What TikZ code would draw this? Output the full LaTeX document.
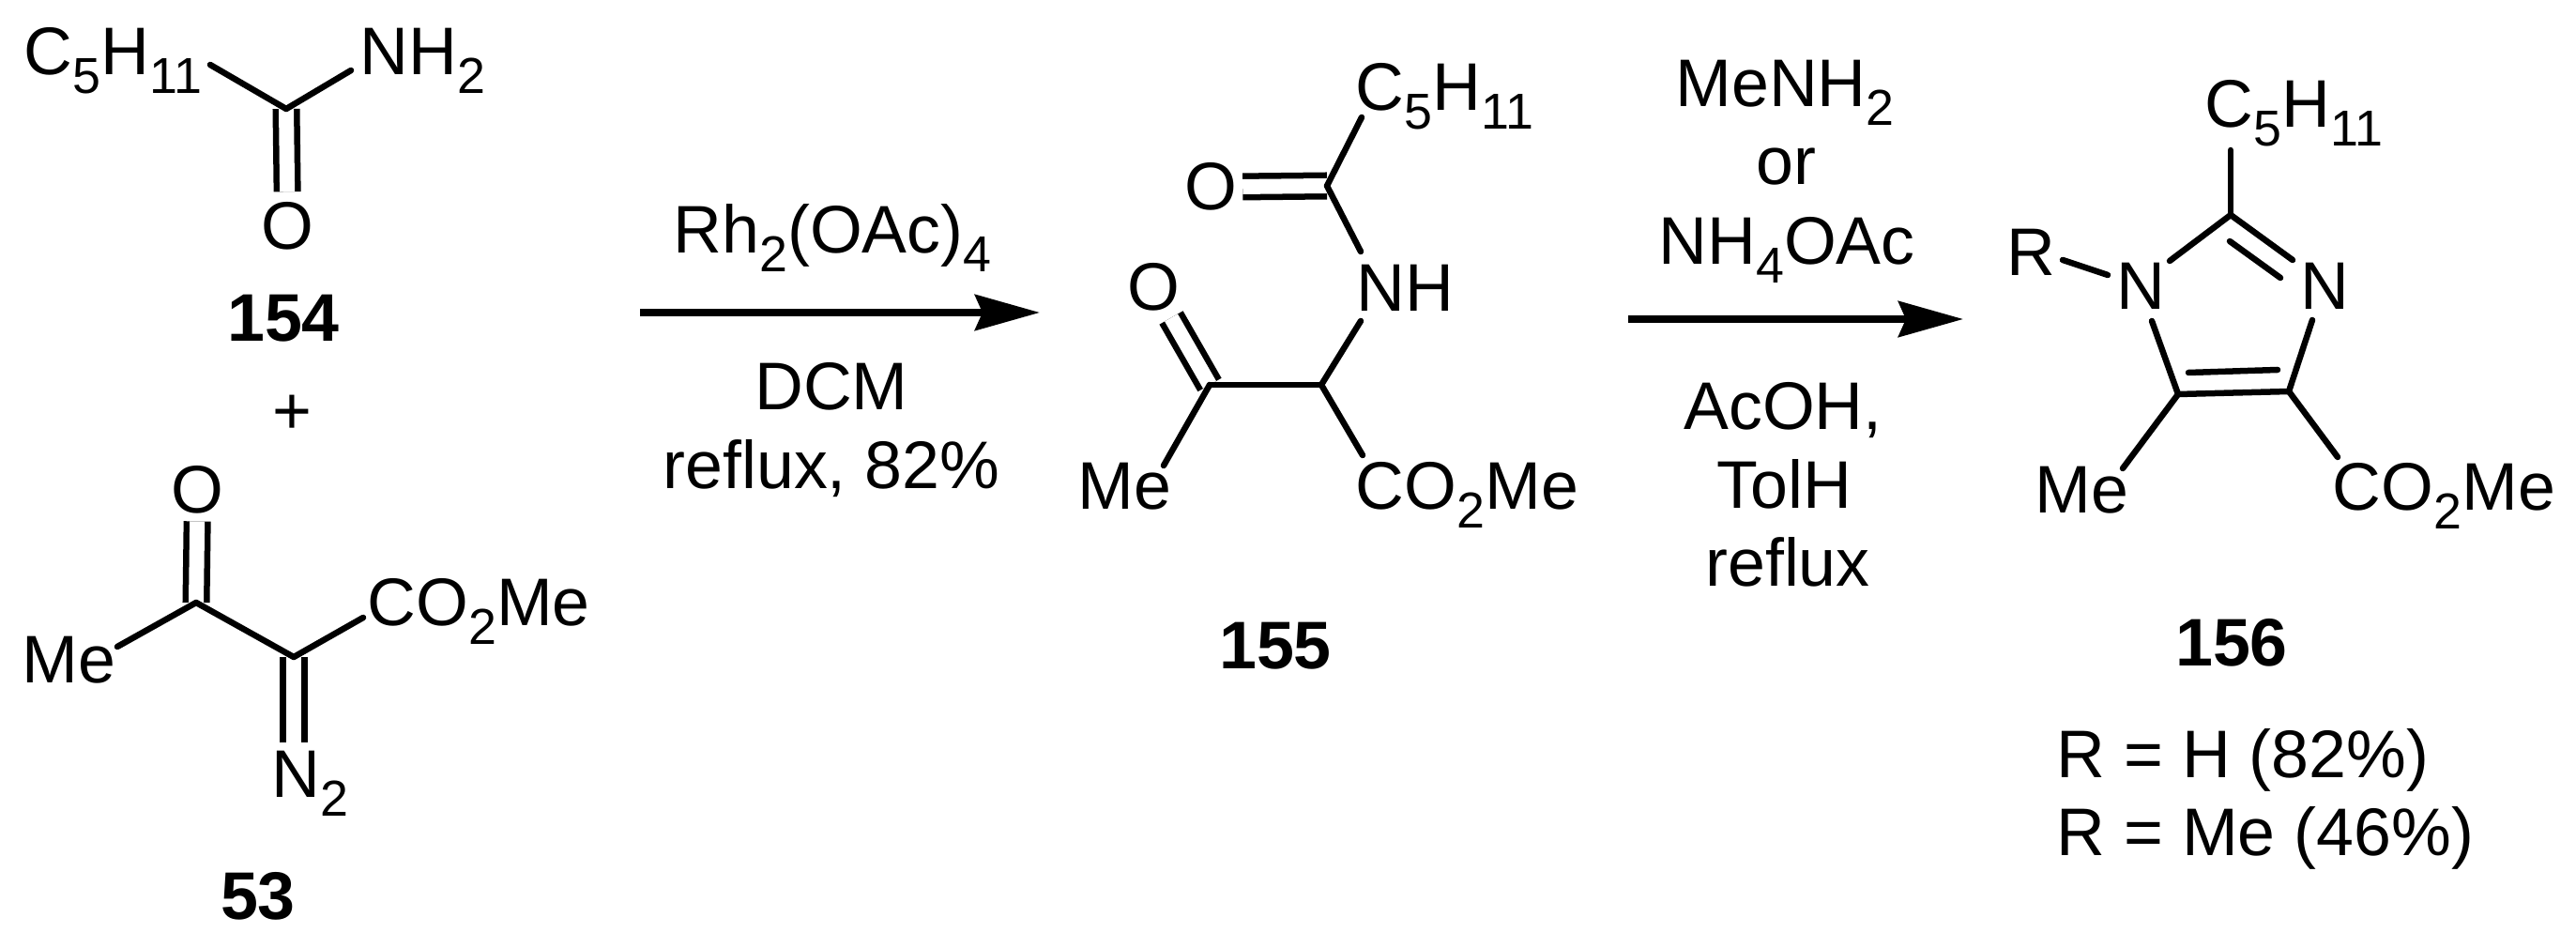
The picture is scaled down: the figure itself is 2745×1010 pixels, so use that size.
\documentclass[tikz,border=0pt]{standalone}
\usepackage{fontspec}
\setmainfont{Liberation Sans}
\usetikzlibrary{arrows.meta}
\newcommand{\subnum}[1]{\raisebox{-0.19cm}{\fontsize{15.3}{16}\selectfont #1}}
\begin{document}
\begin{tikzpicture}[x=0.01cm, y=-0.01cm,
		every node/.style = {inner sep=0pt, font=\fontsize{20.4}{24}\selectfont},
		atom/.style = {anchor=base west},
		reagent/.style = {anchor=base},
		cmpd/.style = {anchor=base, font=\fontsize{20.4}{24}\selectfont\bfseries},
		bond/.style = {line width=0.065cm, line cap=round},
		dblbond/.style = {line width=0.065cm, double, double distance=0.16cm},
		rxnarrow/.style = {line width=0.075cm, -{Stealth[length=0.69cm, width=0.38cm, inset=0.08cm]}}]

	\useasboundingbox (0,0) rectangle (2745,1010);

	% amide 154
	\coordinate (c154) at (305,116);
	\node[atom] (cfive154) at (25,80) {C\subnum{5}H\subnum{11}};
	\node[atom] (nhtwo154) at (383,80) {NH\subnum{2}};
	\node[atom] (oxo154) at (278,266) {O};
	\node[cmpd] (cpd154) at (302,364) {154};
	\node[reagent] (plus) at (311,463) {+};
	\draw[dblbond, shorten >=0.11cm] (c154) -- (oxo154);
	\draw[bond] ([shift={(199,-11)}]cfive154.base west) -- (c154);
	\draw[bond] (c154) -- ([shift={(-9,-5)}]nhtwo154.base west);

	% diazo 53
	\coordinate (c53a) at (209,642);
	\coordinate (c53b) at (313,700);
	\node[atom] (oxo53) at (182,547) {O};
	\node[atom] (me53) at (23,728) {Me};
	\node[atom] (co53) at (391,667) {CO\subnum{2}Me};
	\node[atom] (ntwo53) at (289,850) {N\subnum{2}};
	\node[cmpd] (cpd53) at (275,979) {53};
	\draw[dblbond, shorten >=0.07cm] (c53a) -- (oxo53);
	\draw[dblbond] (c53b) -- ([shift={(24,-59)}]ntwo53.base west);
	\draw[bond] ([shift={(102,-39)}]me53.base west) -- (c53a);
	\draw[bond] (c53a) -- (c53b);
	\draw[bond] (c53b) -- ([shift={(-4,-9)}]co53.base west);

	% first step
	\coordinate (startA) at (682,333);
	\coordinate (endA) at (1108,333);
	\node[reagent] (rhcat) at (887,270) {Rh\subnum{2}(OAc)\subnum{4}};
	\node[reagent] (dcm) at (886,437) {DCM};
	\node[reagent] (refluxA) at (886,521) {reflux, 82\%};
	\draw[rxnarrow] (startA) -- (endA);

	% ketoamide 155
	\coordinate (c155a) at (1289,410);
	\coordinate (c155b) at (1408,410);
	\coordinate (c155c) at (1414,198);
	\node[atom] (cfive155) at (1444,118) {C\subnum{5}H\subnum{11}};
	\node[atom] (oxo155a) at (1262,224) {O};
	\node[atom] (nh155) at (1445,332) {NH};
	\node[atom] (oxo155b) at (1201,331) {O};
	\node[atom] (me155) at (1148,543) {Me};
	\node[atom] (co155) at (1444,543) {CO\subnum{2}Me};
	\node[cmpd] (cpd155) at (1359,713) {155};
	\draw[dblbond, shorten >=0.05cm] (c155c) -- (oxo155a);
	\draw[dblbond, shorten >=0.07cm] (c155a) -- (oxo155b);
	\draw[bond] (c155c) -- ([shift={(7,7)}]cfive155.base west);
	\draw[bond] (c155c) -- ([shift={(5,-64)}]nh155.base west);
	\draw[bond] ([shift={(5,10)}]nh155.base west) -- (c155b);
	\draw[bond] (c155a) -- (c155b);
	\draw[bond] (c155a) -- ([shift={(92,-47)}]me155.base west);
	\draw[bond] (c155b) -- ([shift={(8,-58)}]co155.base west);

	% second step
	\coordinate (startB) at (1735,340);
	\coordinate (endB) at (2092,340);
	\node[reagent] (menh) at (1902,114) {MeNH\subnum{2}};
	\node[reagent] (orword) at (1903,197) {or};
	\node[reagent] (nhoac) at (1904,282) {NH\subnum{4}OAc};
	\node[reagent] (acoh) at (1900,458) {AcOH,};
	\node[reagent] (tolh) at (1901,542) {TolH};
	\node[reagent] (refluxB) at (1905,625) {reflux};
	\draw[rxnarrow] (startB) -- (endB);

	% imidazole 156
	\coordinate (c156b) at (2377,229);
	\coordinate (c156d) at (2439,417);
	\coordinate (c156e) at (2321,420);
	\coordinate (innerA) at (2376,257);
	\coordinate (innerB) at (2430,296);
	\coordinate (innerC) at (2332,397);
	\coordinate (innerD) at (2427,394);
	\node[atom] (cfive156) at (2349,136) {C\subnum{5}H\subnum{11}};
	\node[atom] (rgroup) at (2138,294) {R};
	\node[atom] (none156) at (2255,330) {N};
	\node[atom] (nthree156) at (2451,330) {N};
	\node[atom] (me156) at (2168,547) {Me};
	\node[atom] (co156) at (2485,544) {CO\subnum{2}Me};
	\node[cmpd] (cpd156) at (2378,710) {156};
	\node[atom] (yieldH) at (2191,828) {R = H (82\%)};
	\node[atom] (yieldMe) at (2191,911) {R = Me (46\%)};
	\draw[bond] (c156b) -- ([shift={(28,24)}]cfive156.base west);
	\draw[bond] ([shift={(60,-17)}]rgroup.base west) -- ([shift={(-9,-37)}]none156.base west);
	\draw[bond] ([shift={(57,-52)}]none156.base west) -- (c156b);
	\draw[bond] (c156b) -- ([shift={(-8,-53)}]nthree156.base west);
	\draw[bond] (innerA) -- (innerB);
	\draw[bond] ([shift={(38,12)}]none156.base west) -- (c156e);
	\draw[bond] (c156e) -- (c156d);
	\draw[bond] (innerC) -- (innerD);
	\draw[bond] (c156d) -- ([shift={(13,11)}]nthree156.base west);
	\draw[bond] (c156e) -- ([shift={(94,-48)}]me156.base west);
	\draw[bond] (c156d) -- ([shift={(6,-57)}]co156.base west);
\end{tikzpicture}
\end{document}
